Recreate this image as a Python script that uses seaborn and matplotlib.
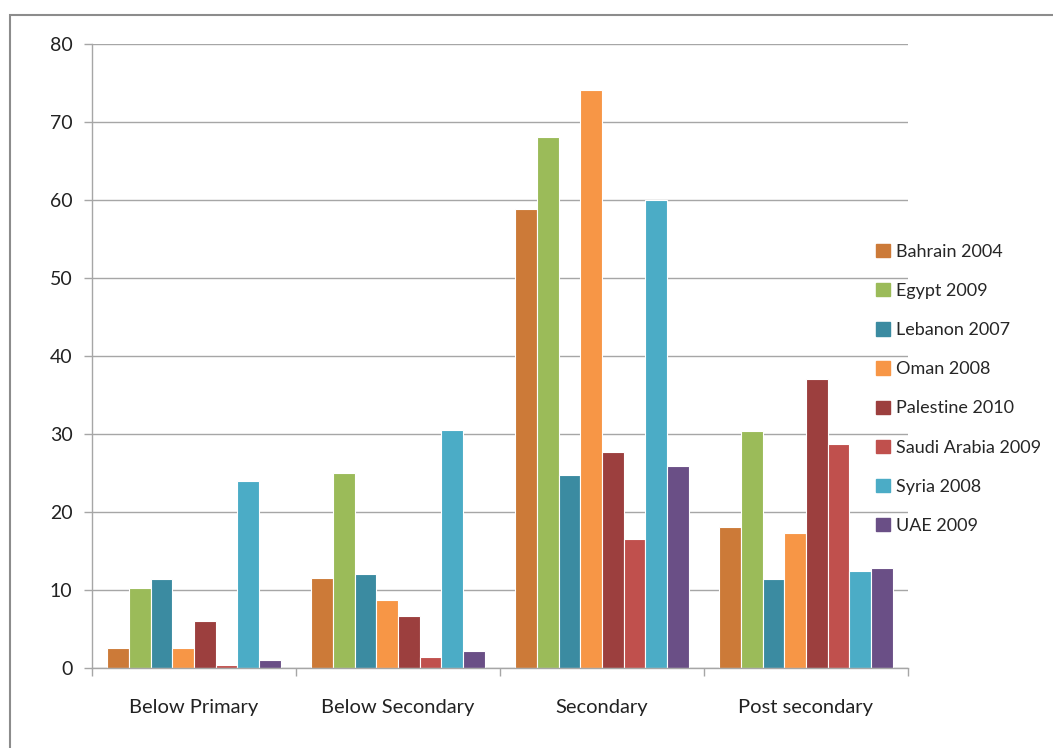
import matplotlib
matplotlib.use("Agg")
import matplotlib.pyplot as plt
import matplotlib.patches as mpatches
import pandas as pd
import seaborn as sns

# 教育程度类别
levels = ["Below Primary", "Below Secondary", "Secondary", "Post secondary"]

# 国家/年份
countries = ["Bahrain 2004", "Egypt 2009", "Lebanon 2007", "Oman 2008",
             "Palestine 2010", "Saudi Arabia 2009", "Syria 2008", "UAE 2009"]

bahrain = [2.6, 11.6, 58.8, 18.1]
egypt = [10.3, 25.0, 68.1, 30.4]
lebanon = [11.4, 12.0, 24.8, 11.4]
oman = [2.6, 8.7, 74.1, 17.3]
palestine = [6.0, 6.7, 27.7, 37.1]
saudi = [0.4, 1.4, 16.5, 28.7]
syria = [24.0, 30.5, 60.0, 12.4]
uae = [1.0, 2.2, 25.9, 12.8]

series = [bahrain, egypt, lebanon, oman, palestine, saudi, syria, uae]

colors = ["#CC7A38", "#9BBB59", "#3B8BA1", "#F79646",
          "#9C3F3E", "#C0504D", "#4BACC6", "#6A4F86"]

# 构建长表
rows = []
for name, vals in zip(countries, series):
    for lvl, v in zip(levels, vals):
        rows.append({"level": lvl, "country": name, "value": v})
df = pd.DataFrame(rows)

sns.set_theme(style="white")
plt.rcParams["font.family"] = ["Lato", "DejaVu Sans"]

fig = plt.figure(figsize=(10.53, 7.48), dpi=100)
ax = fig.add_axes([92 / 1053, 80 / 748, 816 / 1053, 624 / 748])

sns.barplot(data=df, x="level", y="value", hue="country", order=levels,
            hue_order=countries, palette=colors, width=0.85, gap=0,
            edgecolor="white", linewidth=0.8, saturation=1, ax=ax)

ax.set_ylim(0, 80)
ax.set_yticks(range(0, 81, 10))
ax.set_xlim(-0.5, 3.5)
ax.set_xlabel("")
ax.set_ylabel("")

# 网格线和坐标轴
ax.yaxis.grid(True, color="#A6A6A6", linewidth=1)
ax.set_axisbelow(True)
for side in ["top", "right"]:
    ax.spines[side].set_visible(False)
for side in ["left", "bottom"]:
    ax.spines[side].set_color("#A6A6A6")
    ax.spines[side].set_linewidth(1)

ax.tick_params(axis="y", length=6, color="#A6A6A6", width=1, pad=8,
               labelsize=14, labelcolor="#222222", left=True)
ax.set_xticks([-0.5, 0.5, 1.5, 2.5, 3.5], minor=True)
ax.tick_params(axis="x", which="minor", length=6, color="#A6A6A6", width=1, bottom=True)
ax.tick_params(axis="x", which="major", length=0, pad=22, labelsize=14.5,
               labelcolor="#222222")

# 图例
handles = [mpatches.Patch(color=c, label=n) for c, n in zip(colors, countries)]
ax.get_legend().remove()
fig.legend(handles=handles, loc="upper left", bbox_to_anchor=(867 / 1053, 1 - 235 / 748),
           frameon=False, fontsize=13, handlelength=0.75, handleheight=0.75,
           handletextpad=0.35, labelspacing=1.28, borderpad=0)

# 外框
frame = mpatches.Rectangle((10 / 1053, -0.1), 1.1, 1 - 15 / 748 + 0.1,
                           transform=fig.transFigure, fill=False,
                           edgecolor="#8C8C8C", linewidth=1.5, clip_on=False)
fig.patches.append(frame)

fig.savefig("out.png", dpi=100)
